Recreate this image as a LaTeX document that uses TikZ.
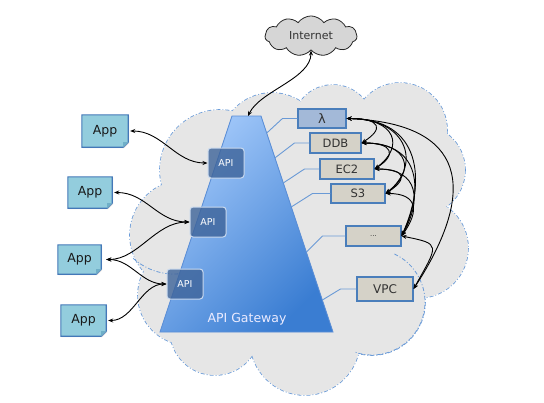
\documentclass[tikz,border=0pt]{standalone}
\usepackage{fontspec}
\setmainfont{DejaVu Sans}
\usetikzlibrary{shapes.symbols, arrows.meta, calc, shadows}
\definecolor{cloudgray}{HTML}{E6E6E6}
\definecolor{cloudblue}{HTML}{6A9BD8}
\definecolor{inetfill}{HTML}{D6D6D6}
\definecolor{trlight}{HTML}{A3C9FA}
\definecolor{trdark}{HTML}{3A7DD2}
\definecolor{trborder}{HTML}{5B8ED6}
\definecolor{apifill}{HTML}{3D6399}
\definecolor{apiborder}{HTML}{C9D9EE}
\definecolor{svcfill}{HTML}{D5D2C8}
\definecolor{svcborder}{HTML}{4A7EBB}
\definecolor{lamfill}{HTML}{A3B9D8}
\definecolor{appfill}{HTML}{93CDDD}
\definecolor{appborder}{HTML}{4478B8}
\definecolor{appfold}{HTML}{6FAFC8}
\definecolor{thinblue}{HTML}{6A9AD6}
\begin{document}
\begin{tikzpicture}[x=1pt,y=-1pt,
  cloudline/.style={draw=cloudblue, line width=1.6pt, dash pattern=on 4pt off 2pt on 1pt off 2pt},
  innerline/.style={draw=cloudblue, line width=0.8pt, dash pattern=on 4pt off 2pt on 1pt off 2pt},
  svc/.style={draw=svcborder, line width=1.1pt, fill=svcfill, inner sep=0pt, font=\fontsize{11.5}{13}\selectfont, text=black!80,
    drop shadow={opacity=0.25, shadow xshift=1pt, shadow yshift=-1pt}},
  api/.style={rounded corners=3pt, draw=apiborder, line width=1pt, fill=apifill, fill opacity=0.8, text opacity=1, text=white,
    minimum width=36pt, minimum height=30pt, inner sep=0pt, font=\fontsize{9.5}{11}\selectfont},
  appbg/.style={inner sep=0pt},
  apptext/.style={inner sep=0pt, font=\fontsize{12.5}{14}\selectfont, text=black!90},
  appshape/.style={fill=appfill, draw=appborder, line width=1.1pt, drop shadow={opacity=0.25, shadow xshift=1pt, shadow yshift=-1pt}},
  thin/.style={draw=thinblue, line width=0.9pt},
  link/.style={{Stealth[length=5pt,width=4pt]}-{Stealth[length=5pt,width=4pt]}, line width=0.9pt, black}
]
\useasboundingbox (0,0) rectangle (544,402);

% ---------- big cloud ----------
\foreach \cx/\cy/\r in {305/340/55, 215/330/45, 188/295/50, 185/235/55, 220/170/60, 272/145/52, 333/125/40, 400/130/47, 420/170/45, 418/248/50, 372/302/53}
  \path[cloudline] (\cx,\cy) circle (\r);
\foreach \cx/\cy/\r in {305/340/55, 215/330/45, 188/295/50, 185/235/55, 220/170/60, 272/145/52, 333/125/40, 400/130/47, 420/170/45, 418/248/50, 372/302/53}
  \fill[cloudgray] (\cx,\cy) circle (\r);
\fill[cloudgray] (300,240) ellipse [x radius=130, y radius=105];
\path[innerline] (372,302) ++(-65:53) arc[start angle=-65, end angle=109, radius=53];
\path[innerline] (174,213) ++(86:61) arc[start angle=86, end angle=134, radius=61];

% ---------- internet cloud ----------
\node[cloud, cloud puffs=11, cloud puff arc=110, aspect=2.3, minimum width=92pt, minimum height=40pt,
  draw=black!85, line width=0.8pt, fill=inetfill, font=\fontsize{11}{13}\selectfont, text=black!80] (inet) at (311,36) {Internet};

% ---------- API gateway trapezoid ----------
\coordinate (tl) at (232,116);
\coordinate (tr) at (261,116);
\coordinate (br) at (333,332);
\coordinate (bl) at (160,332);
\coordinate (gwtop) at (248,116);
\path[top color=trlight, bottom color=trdark, shading angle=45, draw=trborder, line width=0.9pt] (tl) -- (tr) -- (br) -- (bl) -- cycle;
\node[font=\fontsize{12.5}{14}\selectfont, text=white!92!blue] (gwlabel) at (247,319) {API Gateway};

% ---------- service boxes ----------
\node[svc, fill=lamfill, minimum width=48pt, minimum height=19pt, font=\fontsize{13}{14}\selectfont] (lam) at (322,118.5) {λ};
\node[svc, minimum width=51pt, minimum height=20pt] (ddb) at (335.5,143) {DDB};
\node[svc, minimum width=54pt, minimum height=20pt] (ec2) at (347,169) {EC2};
\node[svc, minimum width=54pt, minimum height=19pt] (s3) at (358,193.5) {S3};
\node[svc, minimum width=55pt, minimum height=20pt, font=\fontsize{7}{8}\selectfont] (etc) at (373.5,236) {...};
\node[svc, minimum width=56pt, minimum height=24pt, font=\fontsize{12}{13}\selectfont] (vpc) at (385,289) {VPC};

\coordinate (eL) at ($(tr)!0.079!(br)$);
\coordinate (eD) at ($(tr)!0.194!(br)$);
\coordinate (eE) at ($(tr)!0.31!(br)$);
\coordinate (eS) at ($(tr)!0.421!(br)$);
\coordinate (eX) at ($(tr)!0.63!(br)$);
\coordinate (eV) at ($(tr)!0.852!(br)$);
\draw[thin] (eL) -- ($(lam.west)+(-15,0)$) -- (lam.west);
\draw[thin] (eD) -- ($(ddb.west)+(-15,0)$) -- (ddb.west);
\draw[thin] (eE) -- ($(ec2.west)+(-15,0)$) -- (ec2.west);
\draw[thin] (eS) -- ($(s3.west)+(-18,0)$) -- (s3.west);
\draw[thin] (eX) -- ($(etc.west)+(-23,0)$) -- (etc.west);
\draw[thin] (eV) -- ($(vpc.west)+(-16,0)$) -- (vpc.west);

% ---------- API boxes ----------
\node[api] (api1) at (226,163) {API};
\node[api] (api2) at (208,222) {API};
\node[api] (api3) at (185,284) {API};

% ---------- App boxes ----------
\node[appbg, minimum width=46pt, minimum height=32pt] (bg1) at (105,131) {};
\node[appbg, minimum width=44pt, minimum height=31pt] (bg2) at (90,192.5) {};
\node[appbg, minimum width=43pt, minimum height=29pt] (bg3) at (79.5,259.5) {};
\node[appbg, minimum width=45pt, minimum height=31pt] (bg4) at (83.5,320.5) {};
\foreach \b in {bg1,bg2,bg3,bg4}{
  \path[appshape] (\b.north west) -- (\b.north east) -- ($(\b.south east)+(0,-5)$) -- ($(\b.south east)+(-5,0)$) -- (\b.south west) -- cycle;
  \fill[appfold] ($(\b.south east)+(0,-5)$) -- ($(\b.south east)+(-5,0)$) -- ($(\b.south east)+(-5,-5)$) -- cycle;
}
\node[apptext] (app1) at (bg1) {App};
\node[apptext] (app2) at (bg2) {App};
\node[apptext] (app3) at (bg3) {App};
\node[apptext] (app4) at (bg4) {App};

% ---------- arrows left ----------
\draw[link] ([xshift=2pt]bg1.east) .. controls +(32,0) and +(-32,0) .. (api1.west);
\draw[link] ([xshift=2pt]bg2.east) .. controls +(32,0) and +(-32,0) .. (api2.west);
\draw[link] ([xshift=5pt]bg3.east) .. controls +(32,0) and +(-34,0) .. (api2.west);
\draw[link] ([xshift=5pt]bg3.east) .. controls +(25,0) and +(-25,0) .. (api3.west);
\draw[link] ([xshift=2pt]bg4.east) .. controls +(25,0) and +(-25,0) .. (api3.west);

% ---------- internet arrow ----------
\draw[link] (inet.south) .. controls +(0,28) and +(12,-25) .. (gwtop);

% ---------- arrows right ----------
\draw[link] (lam.east) .. controls +(35,0) and +(22,-14) .. (ddb.east);
\draw[link] (lam.east) .. controls +(50,0) and +(30,-22) .. (ec2.east);
\draw[link] (lam.east) .. controls +(62,0) and +(36,-28) .. (s3.east);
\draw[link] (lam.east) .. controls +(75,0) and +(25,-55) .. (etc.east);
\draw[link] (lam.east) .. controls +(120,5) and +(65,-100) .. (vpc.east);
\draw[link] (ddb.east) .. controls +(32,0) and +(22,-14) .. (ec2.east);
\draw[link] (ddb.east) .. controls +(48,0) and +(30,-22) .. (s3.east);
\draw[link] (ddb.east) .. controls +(60,0) and +(22,-45) .. (etc.east);
\draw[link] (ec2.east) .. controls +(32,0) and +(22,-14) .. (s3.east);
\draw[link] (ec2.east) .. controls +(45,0) and +(20,-35) .. (etc.east);
\draw[link] (s3.east) .. controls +(32,0) and +(18,-25) .. (etc.east);
\draw[link] (etc.east) .. controls +(40,8) and +(25,-45) .. (vpc.east);
\end{tikzpicture}
\end{document}
